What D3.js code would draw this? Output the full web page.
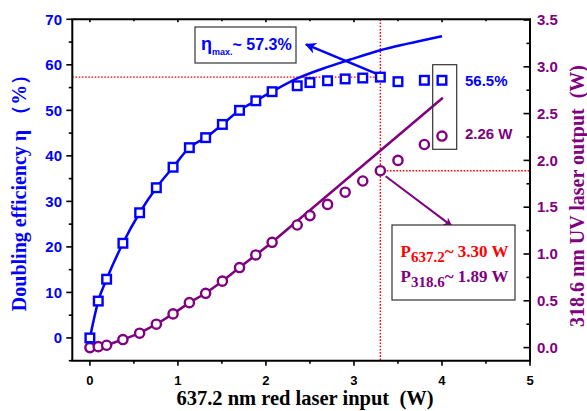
<!DOCTYPE html>
<html>
<head>
<meta charset="utf-8">
<script src="https://cdn.jsdelivr.net/npm/d3@7"></script>
<style>
  body { margin: 0; background: #fff; }
  svg { display: block; }
  .sans { font-family: "Liberation Sans", Arial, sans-serif; font-weight: bold; }
  .serif { font-family: "Liberation Serif", "Times New Roman", serif; font-weight: bold; }
</style>
</head>
<body>
<div id="chart"></div>
<script>
// red laser input power (W)
var inputW = [0, 0.095, 0.19, 0.375, 0.565, 0.755, 0.945, 1.13, 1.315, 1.505, 1.70, 1.885,
              2.07, 2.355, 2.50, 2.70, 2.90, 3.10, 3.30, 3.50, 3.80, 4.00];
// doubling efficiency (%)
var effPct = [0, 8.1, 12.9, 20.8, 27.5, 33.0, 37.5, 41.8, 44.0, 46.9, 50.0, 52.1,
              54.1, 55.4, 56.1, 56.5, 56.9, 57.1, 57.3, 56.3, 56.6, 56.6];
// UV output power (W)
var uvW = [0.00, 0.01, 0.025, 0.086, 0.154, 0.25, 0.36, 0.48, 0.58, 0.71, 0.855, 0.99,
           1.125, 1.31, 1.41, 1.53, 1.66, 1.78, 1.89, 2.00, 2.17, 2.26];

var effFitX = [2.355, 2.65, 2.95, 3.30, 3.60, 4.00];
var effFitY = [57.0, 59.2, 61.1, 63.2, 64.6, 66.3];
var uvFitX = [4.01];
var uvFitY = [2.67];

var xTicks = [0, 1, 2, 3, 4, 5];
var leftTicks = [0, 10, 20, 30, 40, 50, 60, 70];
var rightTicks = [0.0, 0.5, 1.0, 1.5, 2.0, 2.5, 3.0, 3.5];

var width = 587, height = 411;
var margin = {top: 19.3, right: 57, bottom: 50.3, left: 72.3};

var blue = "#0000ff", purple = "#800080", red = "#ff0000";

var svg = d3.select("#chart").append("svg")
    .attr("width", width)
    .attr("height", height);

var x = d3.scaleLinear().domain([-0.2, 5]).range([margin.left, width - margin.right]);
var yL = d3.scaleLinear().domain([-5, 70]).range([height - margin.bottom, margin.top]);
var yR = d3.scaleLinear().domain([-0.14, 3.5]).range([height - margin.bottom, margin.top + 0.7]);

var x0 = margin.left, x1 = width - margin.right;
var y0 = height - margin.bottom, y1 = margin.top;

// arrow heads
var defs = svg.append("defs");
[["arrowBlue", blue], ["arrowPurple", purple]].forEach(function (m) {
    defs.append("marker")
        .attr("id", m[0])
        .attr("viewBox", "0 0 10 10")
        .attr("refX", 9).attr("refY", 5)
        .attr("markerWidth", 5).attr("markerHeight", 4.5)
        .attr("orient", "auto")
        .append("path")
        .attr("d", "M0,0 L10,5 L0,10 L3,5 Z")
        .attr("fill", m[1]);
});

// red dotted guide lines
var guide = svg.append("g")
    .attr("stroke", red)
    .attr("stroke-width", 1.4)
    .attr("stroke-dasharray", "1.6,1.6");
guide.append("line").attr("x1", x0).attr("x2", x(3.3)).attr("y1", yL(57.3)).attr("y2", yL(57.3));
guide.append("line").attr("x1", x(3.3)).attr("x2", x(3.3)).attr("y1", y1).attr("y2", y0);
guide.append("line").attr("x1", x(3.3)).attr("x2", x1).attr("y1", yR(1.89)).attr("y2", yR(1.89));

// lines: measured part joined with the fit
var nMeas = 13;
var effLine = inputW.slice(0, nMeas).map(function (d, i) { return [d, effPct[i]]; })
    .concat(effFitX.map(function (d, i) { return [d, effFitY[i]]; }));
var uvLine = inputW.slice(0, nMeas).map(function (d, i) { return [d, uvW[i]]; })
    .concat(uvFitX.map(function (d, i) { return [d, uvFitY[i]]; }));

svg.append("path")
    .attr("d", d3.line().x(function (d) { return x(d[0]); }).y(function (d) { return yL(d[1]); })
        .curve(d3.curveMonotoneX)(effLine))
    .attr("fill", "none").attr("stroke", blue).attr("stroke-width", 2.5);

svg.append("path")
    .attr("d", d3.line().x(function (d) { return x(d[0]); }).y(function (d) { return yR(d[1]); })(uvLine))
    .attr("fill", "none").attr("stroke", purple).attr("stroke-width", 2.5);

// markers
svg.append("g").selectAll("circle")
    .data(inputW)
    .join("circle")
    .attr("cx", function (d) { return x(d); })
    .attr("cy", function (d, i) { return yR(uvW[i]); })
    .attr("r", 4.6)
    .attr("fill", "#fff").attr("stroke", purple).attr("stroke-width", 2.4);

svg.append("g").selectAll("rect")
    .data(inputW)
    .join("rect")
    .attr("x", function (d) { return x(d) - 4.3; })
    .attr("y", function (d, i) { return yL(effPct[i]) - 4.3; })
    .attr("width", 8.6).attr("height", 8.6)
    .attr("fill", "#fff").attr("stroke", blue).attr("stroke-width", 2.4);

// axes frame
var frame = svg.append("g").attr("stroke", "#000").attr("stroke-width", 2).attr("fill", "none");
frame.append("line").attr("x1", x0 - 1).attr("x2", x1 + 1).attr("y1", y0).attr("y2", y0);
frame.append("line").attr("x1", x0 - 1).attr("x2", x1 + 1).attr("y1", y1).attr("y2", y1);
frame.append("line").attr("x1", x0).attr("x2", x0).attr("y1", y1).attr("y2", y0);
frame.append("line").attr("x1", x1).attr("x2", x1).attr("y1", y1).attr("y2", y0);

var ticks = svg.append("g").attr("stroke", "#000").attr("stroke-width", 1.6);
d3.range(0, 5.01, 0.5).forEach(function (v) {
    var major = Math.abs(v - Math.round(v)) < 1e-6;
    ticks.append("line").attr("x1", x(v)).attr("x2", x(v)).attr("y1", y0).attr("y2", y0 + (major ? 5 : 3));
    ticks.append("line").attr("x1", x(v)).attr("x2", x(v)).attr("y1", y1).attr("y2", y1 + (major ? 3 : 2));
});
d3.range(-5, 70.01, 5).forEach(function (v) {
    var major = v % 10 === 0;
    ticks.append("line").attr("x1", x0 - (major ? 6 : 3.5)).attr("x2", x0).attr("y1", yL(v)).attr("y2", yL(v));
});
d3.range(0, 3.51, 0.25).forEach(function (v) {
    var major = Math.abs(v * 2 - Math.round(v * 2)) < 1e-6;
    ticks.append("line").attr("x1", x1 - (major ? 6.5 : 3.5)).attr("x2", x1).attr("y1", yR(v)).attr("y2", yR(v));
});

// tick labels
svg.append("g").selectAll("text").data(xTicks).join("text")
    .attr("class", "sans")
    .attr("x", function (d) { return x(d); }).attr("y", 384.5)
    .attr("text-anchor", "middle").attr("font-size", 13).attr("fill", "#000")
    .text(function (d) { return d; });

svg.append("g").selectAll("text").data(leftTicks).join("text")
    .attr("class", "sans")
    .attr("x", 62).attr("y", function (d) { return yL(d) + 5.3; })
    .attr("text-anchor", "end").attr("font-size", 15).attr("fill", blue)
    .text(function (d) { return d; });

svg.append("g").selectAll("text").data(rightTicks).join("text")
    .attr("class", "sans")
    .attr("x", 537).attr("y", function (d) { return yR(d) + 5.3; })
    .attr("font-size", 15).attr("fill", purple)
    .text(function (d) { return d.toFixed(1); });

// axis titles
svg.append("text").attr("class", "serif")
    .attr("x", 305).attr("y", 405)
    .attr("text-anchor", "middle").attr("font-size", 20.5).attr("fill", "#000")
    .text("637.2 nm red laser input \u00a0(W)");

svg.append("text").attr("class", "serif")
    .attr("transform", "translate(26,188) rotate(-90)")
    .attr("text-anchor", "middle").attr("font-size", 20).attr("fill", blue)
    .text("Doubling efficiency η （%）");

svg.append("text").attr("class", "serif")
    .attr("transform", "translate(584,196) rotate(-90)")
    .attr("text-anchor", "middle").attr("font-size", 20).attr("fill", purple)
    .text("318.6 nm UV laser output \u00a0(W)");

// eta max annotation
svg.append("rect").attr("x", 195).attr("y", 27).attr("width", 101).attr("height", 36)
    .attr("fill", "#fff").attr("stroke", "#444").attr("stroke-width", 1.3);
var t1 = svg.append("text").attr("class", "sans").attr("x", 201).attr("y", 50).attr("fill", blue);
t1.append("tspan").attr("font-size", 18).text("η");
t1.append("tspan").attr("font-size", 9).attr("dy", 5).text("max.");
t1.append("tspan").attr("font-size", 16).attr("dy", -5).text("~ 57.3%");

svg.append("line")
    .attr("x1", x(3.26)).attr("y1", yL(58.0))
    .attr("x2", x(2.455)).attr("y2", yL(64.5))
    .attr("stroke", blue).attr("stroke-width", 2.5)
    .attr("marker-end", "url(#arrowBlue)");

// box around the last points
svg.append("rect").attr("x", 432.7).attr("y", 64.7).attr("width", 24).attr("height", 84.6)
    .attr("fill", "none").attr("stroke", "#333").attr("stroke-width", 1.2);
svg.append("text").attr("class", "sans").attr("x", 465).attr("y", 86)
    .attr("font-size", 15).attr("fill", blue).text("56.5%");
svg.append("text").attr("class", "sans").attr("x", 465).attr("y", 139)
    .attr("font-size", 15).attr("fill", purple).text("2.26 W");

// power annotation
svg.append("line")
    .attr("x1", x(3.36)).attr("y1", yR(1.83))
    .attr("x2", x(4.11)).attr("y2", yR(1.30))
    .attr("stroke", purple).attr("stroke-width", 2)
    .attr("marker-end", "url(#arrowPurple)");

svg.append("rect").attr("x", 392).attr("y", 225).attr("width", 123).attr("height", 75)
    .attr("fill", "#fff").attr("stroke", "#333").attr("stroke-width", 1.2);
var p1 = svg.append("text").attr("class", "serif").attr("x", 400.5).attr("y", 256.7).attr("fill", red);
p1.append("tspan").attr("font-size", 17).text("P");
p1.append("tspan").attr("font-size", 15).attr("dy", 5).text("637.2");
p1.append("tspan").attr("font-size", 17).attr("dy", -5).text("~ 3.30 W");
var p2 = svg.append("text").attr("class", "serif").attr("x", 400.5).attr("y", 281.7).attr("fill", purple);
p2.append("tspan").attr("font-size", 17).text("P");
p2.append("tspan").attr("font-size", 15).attr("dy", 5).text("318.6");
p2.append("tspan").attr("font-size", 17).attr("dy", -5).text("~ 1.89 W");
</script>
</body>
</html>
